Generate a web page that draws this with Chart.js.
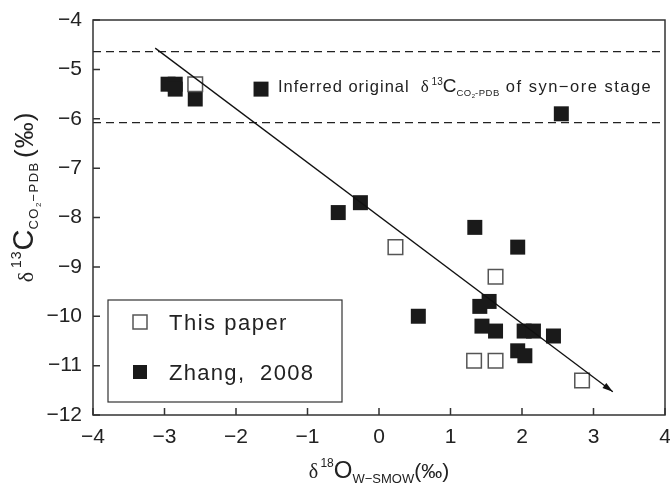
<!DOCTYPE html>
<html>
<head>
<meta charset="utf-8">
<script src="https://cdn.jsdelivr.net/npm/chart.js@4.4.1/dist/chart.umd.min.js"></script>
<style>
  html, body { margin: 0; padding: 0; background: #fff; }
  #wrap { width: 670px; height: 491px; }
</style>
</head>
<body>
<div id="wrap"><canvas id="isoChart"></canvas></div>
<script>
// data
const thisPaperX = [-2.57, 0.23, 1.63, 1.33, 1.63, 2.84];
const thisPaperY = [-5.3, -8.6, -9.2, -10.9, -10.9, -11.3];

const zhangX = [-2.95, -2.85, -2.85, -2.57, -1.65, 2.55, -0.57, -0.26, 1.34, 1.94,
  0.55, 1.41, 1.54, 1.44, 1.63, 2.03, 2.16, 2.44, 1.94, 2.04];
const zhangY = [-5.3, -5.3, -5.4, -5.6, -5.4, -5.9, -7.9, -7.7, -8.2, -8.6,
  -10.0, -9.8, -9.7, -10.2, -10.3, -10.3, -10.3, -10.4, -10.7, -10.8];

const trendX = [-3.13, 3.27];
const trendY = [-4.57, -11.53];

const bandY = [-4.64, -6.08];
const xRange = [-4, 4];
const yRange = [-12, -4];

const SANS = '"Liberation Sans", Arial, sans-serif';
const SERIF = '"Liberation Serif", "Times New Roman", serif';

const toPts = (xs, ys) => xs.map((x, i) => ({ x: x, y: ys[i] }));
const minus = v => (v < 0 ? '\u2212' + Math.abs(v) : '' + v);

// mixed-size text: [text, size, dy, family, letterSpacing]
function drawRich(ctx, parts, x, y, align) {
  const setP = p => {
    ctx.font = p[1] + 'px ' + (p[3] || SANS);
    ctx.letterSpacing = (p[4] || 0) + 'px';
  };
  let w = 0;
  parts.forEach(p => { setP(p); w += ctx.measureText(p[0]).width; });
  let cx = align === 'center' ? x - w / 2 : x;
  parts.forEach(p => {
    setP(p);
    ctx.fillText(p[0], cx, y + (p[2] || 0));
    cx += ctx.measureText(p[0]).width;
  });
  ctx.letterSpacing = '0px';
}

const framePlugin = {
  id: 'frame',
  afterDraw(chart) {
    const ctx = chart.ctx;
    const a = chart.chartArea;
    const xs = chart.scales.x, ys = chart.scales.y;
    ctx.save();
    ctx.strokeStyle = '#333';
    ctx.lineWidth = 1.5;
    ctx.strokeRect(a.left, a.top, a.right - a.left, a.bottom - a.top);

    // inward ticks
    ctx.beginPath();
    xs.ticks.forEach(t => {
      const px = xs.getPixelForValue(t.value);
      ctx.moveTo(px, a.bottom);
      ctx.lineTo(px, a.bottom - 7);
    });
    ys.ticks.forEach(t => {
      const py = ys.getPixelForValue(t.value);
      ctx.moveTo(a.left, py);
      ctx.lineTo(a.left + 7, py);
    });
    ctx.stroke();

    // arrow head at end of trend line
    const m = chart.getDatasetMeta(2).data;
    const p0 = m[0], p1 = m[m.length - 1];
    const ang = Math.atan2(p1.y - p0.y, p1.x - p0.x);
    ctx.fillStyle = '#111';
    ctx.beginPath();
    ctx.moveTo(p1.x, p1.y);
    ctx.lineTo(p1.x - 11 * Math.cos(ang - 0.3), p1.y - 11 * Math.sin(ang - 0.3));
    ctx.lineTo(p1.x - 11 * Math.cos(ang + 0.3), p1.y - 11 * Math.sin(ang + 0.3));
    ctx.closePath();
    ctx.fill();

    // legend box
    const lx = a.left + 15, ly = a.top + 280;
    ctx.lineWidth = 1.2;
    ctx.strokeRect(lx, ly, 234, 102);
    ctx.lineWidth = 1.5;
    ctx.strokeStyle = '#555';
    ctx.fillStyle = '#fff';
    ctx.fillRect(lx + 25, ly + 15, 14, 14);
    ctx.strokeRect(lx + 25, ly + 15, 14, 14);
    ctx.fillStyle = '#1a1a1a';
    ctx.fillRect(lx + 25, ly + 65, 14, 14);

    ctx.fillStyle = '#222';
    ctx.textBaseline = 'alphabetic';
    drawRich(ctx, [['This paper', 22, 0, SANS, 1.5]], lx + 61, ly + 30, 'left');
    drawRich(ctx, [['Zhang,  2008', 22, 0, SANS, 1.3]], lx + 61, ly + 80, 'left');

    // annotation between dashed lines
    drawRich(ctx, [
      ['Inferred original  ', 16.5, 0, SANS, 1],
      ['\u03b4', 17, 0, SERIF], [' ', 10, 0],
      ['13', 10, -7],
      ['C', 19, 0],
      ['CO', 9.5, 4, SANS, 0.5], ['2', 6, 6], ['-PDB', 9.5, 4, SANS, 0.5],
      [' of syn\u2212ore stage', 16.5, 0, SANS, 1.5]
    ], 278, 92, 'left');

    // axis titles
    drawRich(ctx, [
      ['\u03b4', 20, 0, SERIF], [' ', 8, 0],
      ['18', 12, -11],
      ['O', 24, 0],
      ['W\u2212SMOW', 13, 5],
      ['(\u2030)', 21, 0]
    ], (a.left + a.right) / 2, 478, 'center');

    ctx.translate(33, 197);
    ctx.rotate(-Math.PI / 2);
    drawRich(ctx, [
      ['\u03b4', 22, 0, SERIF], [' ', 14, 0],
      ['13', 14, -12, SANS, 1],
      ['C', 29, 0],
      ['CO', 13, 5, SANS, 1.5], ['2', 8, 8, SANS, 1], ['\u2212PDB', 13, 5, SANS, 1.5],
      [' ', 12, 0],
      ['(\u2030)', 26, 0, SANS, 1]
    ], 0, 0, 'center');
    ctx.restore();
  }
};

new Chart(document.getElementById('isoChart'), {
  type: 'scatter',
  data: {
    datasets: [
      {
        label: 'This paper',
        data: toPts(thisPaperX, thisPaperY),
        pointStyle: 'rect',
        pointRadius: 10.3,
        pointHoverRadius: 10.3,
        backgroundColor: '#fff',
        borderColor: '#555',
        borderWidth: 1.5,
        order: 1
      },
      {
        label: 'Zhang, 2008',
        data: toPts(zhangX, zhangY),
        pointStyle: 'rect',
        pointRadius: 10.6,
        pointHoverRadius: 10.6,
        backgroundColor: '#1a1a1a',
        borderColor: '#1a1a1a',
        borderWidth: 0,
        order: 2
      },
      {
        type: 'line',
        label: 'trend',
        data: toPts(trendX, trendY),
        borderColor: '#111',
        borderWidth: 1.3,
        pointRadius: 0,
        order: 0
      },
      {
        type: 'line',
        label: 'upper',
        data: toPts(xRange, [bandY[0], bandY[0]]),
        borderColor: '#222',
        borderWidth: 1.3,
        borderDash: [8, 5],
        pointRadius: 0,
        order: 3
      },
      {
        type: 'line',
        label: 'lower',
        data: toPts(xRange, [bandY[1], bandY[1]]),
        borderColor: '#222',
        borderWidth: 1.3,
        borderDash: [8, 5],
        pointRadius: 0,
        order: 3
      }
    ]
  },
  options: {
    responsive: true,
    maintainAspectRatio: false,
    animation: false,
    layout: { autoPadding: false, padding: { top: 20, right: 5, left: 0, bottom: 0 } },
    plugins: {
      legend: { display: false },
      tooltip: { enabled: false }
    },
    scales: {
      x: {
        type: 'linear',
        min: xRange[0],
        max: xRange[1],
        afterFit: s => { s.height = 76; s.paddingLeft = 0; s.paddingRight = 0; },
        grid: { display: false, drawTicks: false },
        border: { display: false },
        ticks: {
          stepSize: 1,
          padding: 10,
          color: '#222',
          font: { family: SANS, size: 21 },
          callback: minus
        }
      },
      y: {
        type: 'linear',
        min: yRange[0],
        max: yRange[1],
        afterFit: s => { s.width = 93; s.paddingTop = 0; s.paddingBottom = 0; },
        grid: { display: false, drawTicks: false },
        border: { display: false },
        ticks: {
          stepSize: 1,
          padding: 11,
          color: '#222',
          font: { family: SANS, size: 21 },
          callback: minus
        }
      }
    }
  },
  plugins: [framePlugin]
});
</script>
</body>
</html>
